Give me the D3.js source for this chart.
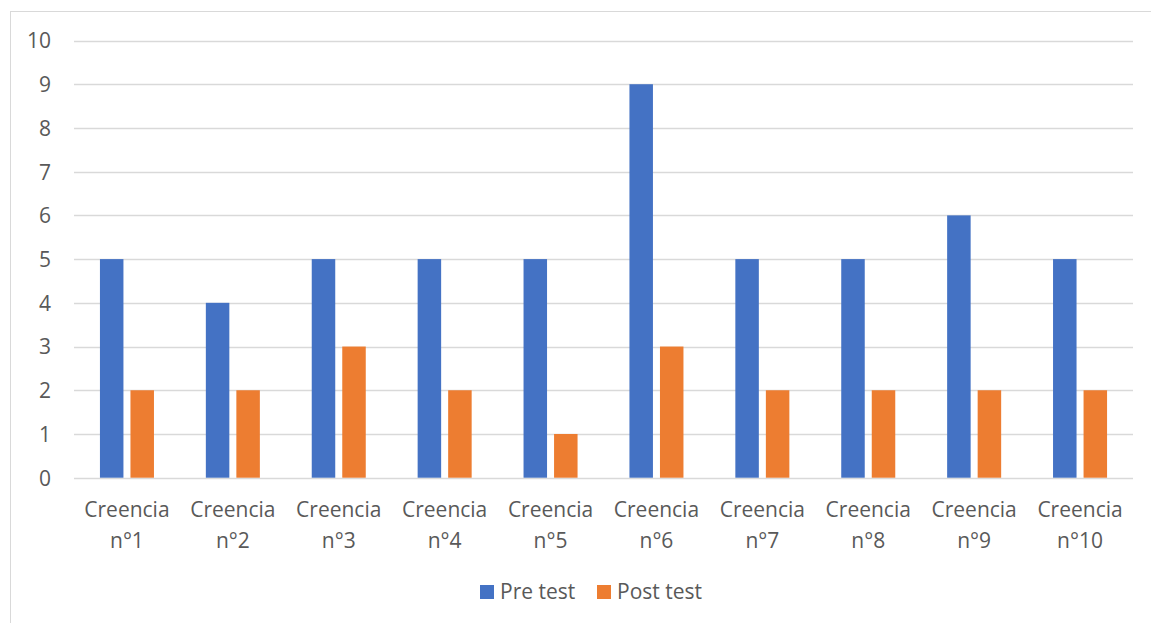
<!DOCTYPE html>
<html><head><meta charset="utf-8">
<script src="https://cdn.jsdelivr.net/npm/d3@7"></script>
<style>body{margin:0;background:#fff}svg{display:block}text{font-family:"Open Sans","Noto Sans",sans-serif;fill:#595959}</style>
</head><body><svg id="c" width="1151" height="623"></svg>
<script>
const categories = ["Creencia n°1","Creencia n°2","Creencia n°3","Creencia n°4","Creencia n°5","Creencia n°6","Creencia n°7","Creencia n°8","Creencia n°9","Creencia n°10"];
const seriesNames = ["Pre test","Post test"];
const preTest = [5,4,5,5,5,9,5,5,6,5];
const postTest = [2,2,3,2,1,3,2,2,2,2];
const yTicks = [0,1,2,3,4,5,6,7,8,9,10];
const colors = ["#4472C4","#ED7D31"];

const svg = d3.select("#c");
svg.append("rect").attr("x",10.5).attr("y",11.5).attr("width",1150).attr("height",620)
  .attr("fill","#fff").attr("stroke","#d9d9d9");
const x0 = 74, x1 = 1133, yTop = 40.5, yBot = 477.7;
const x = d3.scaleBand().domain(categories).range([x0,x1]);
const y = d3.scaleLinear().domain([0,10]).range([yBot,yTop]);
const xs = d3.scaleBand().domain(seriesNames).range([0,x.bandwidth()]).paddingInner(0.23).paddingOuter(0.85);

const grid = svg.append("g");
grid.selectAll("line").data(yTicks).join("line")
  .attr("x1",x0).attr("x2",x1).attr("y1",d=>Math.round(y(d))+0.5).attr("y2",d=>Math.round(y(d))+0.5)
  .attr("stroke","#d9d9d9").attr("stroke-width",1.3);

const yAxis = d3.axisLeft(y).tickValues(yTicks).tickSize(0).tickPadding(0);
const ga = svg.append("g").attr("transform","translate(51,0)").call(yAxis);
ga.select(".domain").remove();
ga.selectAll("text").style("font-size","21px").attr("fill","#595959").attr("dy","0.35em");

const data = categories.map((c,i)=>({c, vals:[preTest[i],postTest[i]]}));
const g = svg.append("g");
g.selectAll("g").data(data).join("g").attr("transform",d=>`translate(${x(d.c)},0)`)
  .selectAll("rect").data(d=>d.vals.map((v,j)=>({v,s:seriesNames[j],j}))).join("rect")
  .attr("x",d=>xs(d.s)).attr("width",xs.bandwidth())
  .attr("y",d=>y(d.v)).attr("height",d=>yBot-y(d.v)).attr("fill",d=>colors[d.j]);

const xl = svg.append("g");
categories.forEach(c=>{
  const parts = c.split(" ");
  const t = xl.append("text").attr("x",x(c)+x.bandwidth()/2).attr("y",517).attr("text-anchor","middle").style("font-size","21px");
  t.append("tspan").attr("x",x(c)+x.bandwidth()/2).text(parts[0]);
  t.append("tspan").attr("x",x(c)+x.bandwidth()/2).attr("dy",31).text(parts[1]);
});

const leg = svg.append("g");
const legX = [480,597];
seriesNames.forEach((s,i)=>{
  leg.append("rect").attr("x",legX[i]).attr("y",585).attr("width",14).attr("height",14).attr("fill",colors[i]);
  leg.append("text").attr("x",legX[i]+20).attr("y",599).style("font-size","21px").text(s);
});
</script></body></html>
